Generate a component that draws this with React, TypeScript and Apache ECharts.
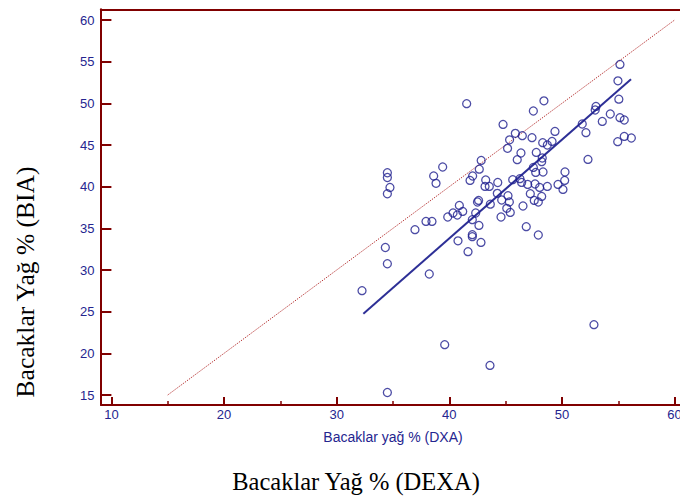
import React, { useEffect, useRef } from "react";
import * as echarts from "echarts";

// Leg fat %: DEXA (x) vs BIA (y)
const dexaValues: number[] = [
  41.54, 44.77, 45.35, 45.17, 42.83, 42.66, 39.41, 38.61, 38.82, 34.5,
  34.5, 34.73, 34.5, 42.07, 41.84, 43.23, 44.3, 43.17, 43.55, 44.26,
  42.6, 42.5, 43.64, 44.65, 40.89, 40.33, 40.71, 41.19, 39.86, 42.34,
  42.04, 42.63, 44.59, 37.93, 38.46, 36.95, 42.04, 42.04, 40.77, 46.83,
  47.9, 42.81, 41.66, 34.32, 34.5, 38.22, 32.25, 39.59, 43.61, 34.5,
  55.15, 54.97, 55.05, 48.4, 47.46, 53.02, 52.95, 54.29, 53.58, 55.15,
  55.53, 51.8, 52.13, 49.38, 45.86, 46.48, 47.34, 48.29, 48.7, 49.12,
  55.53, 56.16, 54.95, 46.36, 46.03, 47.72, 48.25, 48.2, 52.31, 47.46,
  47.67, 48.32, 50.27, 50.24, 45.63, 46.27, 46.42, 46.96, 47.61, 48.02,
  48.7, 49.65, 50.09, 45.21, 47.19, 48.2, 47.54, 47.9, 45.33, 46.54,
  45.1, 45.41, 52.84,
];
const biaValues: number[] = [
  49.96, 47.47, 45.62, 44.6, 43.15, 42.1, 42.36, 41.28, 40.4, 41.67,
  41.1, 39.9, 39.15, 41.28, 40.75, 40.8, 40.5, 40.03, 40.03, 39.2,
  38.35, 38.16, 37.9, 38.4, 37.75, 36.84, 36.6, 37.03, 36.36, 36.84,
  36.04, 35.35, 36.36, 35.83, 35.83, 34.84, 34.24, 34.0, 33.5, 35.2,
  34.2, 33.31, 32.2, 32.7, 30.75, 29.52, 27.52, 21.04, 18.55, 15.3,
  54.67, 52.7, 50.5, 50.3, 49.08, 49.63, 49.2, 48.72, 47.83, 48.28,
  48.0, 47.52, 46.48, 46.63, 46.4, 46.12, 45.88, 45.28, 45.0, 45.43,
  46.03, 45.84, 45.4, 44.04, 43.24, 44.11, 43.44, 43.0, 43.27, 42.31,
  41.71, 41.76, 41.76, 40.75, 40.84, 40.96, 40.51, 40.27, 40.32, 39.91,
  40.03, 40.27, 39.67, 38.92, 39.16, 38.83, 38.35, 38.16, 38.16, 37.68,
  37.4, 36.91, 23.44,
];
// Identity line (y = x) and fitted regression line end points
const identityX: number[] = [15, 60];
const identityY: number[] = [15, 60];
const regressionX: number[] = [32.37, 56.13];
const regressionY: number[] = [24.76, 52.9];

const xTickMin = 10;
const xTickMax = 60;
const xTickStep = 10;
const yTickMin = 15;
const yTickMax = 60;
const yTickStep = 5;

const xAxisName = "Bacaklar yağ % (DXA)";
const xTitle = "Bacaklar Yağ % (DEXA)";
const yTitle = "Bacaklar Yağ % (BIA)";

const AXIS_RED = "#800000";
const NAVY = "#1f1f8f";
const LABEL_BLUE = "#25258f";

export default function App() {
  const ref = useRef<HTMLDivElement>(null);

  useEffect(() => {
    if (!ref.current) return;
    const chart = echarts.init(ref.current, undefined, { renderer: "svg" });

    // pixel geometry
    const pxPerX = 11.264;
    const pxPerY = 8.333;
    const g1Left = 111.4, g1Right = 5.4, g1Top = 20, g1Bottom = 103;
    const g0Left = 101, g0Right = 0, g0Top = 9.3, g0Bottom = 93;
    const xMin0 = xTickMin - (g1Left - g0Left) / pxPerX;
    const xMax0 = xTickMax + (g1Right - g0Right) / pxPerX;
    const yMax0 = yTickMax + (g1Top - g0Top) / pxPerY;
    const yMin0 = yTickMin - (g1Bottom - g0Bottom) / pxPerY;

    const scatterData = dexaValues.map((x, i) => [x, biaValues[i]]);
    const identityData = identityX.map((x, i) => [x, identityY[i]]);
    const regressionData = regressionX.map((x, i) => [x, regressionY[i]]);

    const lineOnly = {
      show: true,
      onZero: false,
      lineStyle: { color: AXIS_RED, width: 2 },
    };

    chart.setOption({
      animation: false,
      backgroundColor: "#ffffff",
      grid: [
        { left: g0Left, right: g0Right, top: g0Top, bottom: g0Bottom, outerBoundsMode: "none" },
        { left: g1Left, right: g1Right, top: g1Top, bottom: g1Bottom, outerBoundsMode: "none" },
      ],
      xAxis: [
        {
          gridIndex: 0, type: "value", min: xMin0, max: xMax0,
          axisLine: lineOnly, axisTick: { show: false }, axisLabel: { show: false },
          splitLine: { show: false },
        },
        {
          gridIndex: 0, type: "value", position: "top", min: xMin0, max: xMax0,
          axisLine: lineOnly, axisTick: { show: false }, axisLabel: { show: false },
          splitLine: { show: false },
        },
        {
          gridIndex: 1, type: "value", min: xTickMin, max: xTickMax, interval: xTickStep,
          offset: 10,
          axisLine: { show: false },
          axisTick: { show: true, inside: true, length: 8, lineStyle: { color: AXIS_RED, width: 2 } },
          minorTick: { show: true, splitNumber: 2, length: 4, lineStyle: { color: AXIS_RED, width: 1.5 } },
          axisLabel: {
            color: LABEL_BLUE, fontSize: 13, margin: 3,
            fontFamily: "Liberation Sans, Arial, sans-serif",
          },
          splitLine: { show: false },
          name: xAxisName,
          nameLocation: "middle",
          nameGap: 25,
          nameTextStyle: {
            color: LABEL_BLUE, fontSize: 14,
            fontFamily: "Liberation Sans, Arial, sans-serif",
          },
        },
      ],
      yAxis: [
        {
          gridIndex: 0, type: "value", min: yMin0, max: yMax0,
          axisLine: lineOnly, axisTick: { show: false }, axisLabel: { show: false },
          splitLine: { show: false },
        },
        {
          gridIndex: 1, type: "value", min: yTickMin, max: yTickMax, interval: yTickStep,
          offset: 10,
          axisLine: { show: false },
          axisTick: { show: true, inside: true, length: 10, lineStyle: { color: AXIS_RED, width: 2 } },
          axisLabel: {
            color: LABEL_BLUE, fontSize: 13, margin: 7,
            fontFamily: "Liberation Sans, Arial, sans-serif",
          },
          splitLine: { show: false },
        },
      ],
      series: [
        {
          type: "line",
          xAxisIndex: 0, yAxisIndex: 0,
          data: identityData,
          showSymbol: false,
          symbol: "none",
          lineStyle: { color: "#b22a2a", width: 1, type: [1.2, 1.2] },
          silent: true,
          z: 2,
        },
        {
          type: "line",
          xAxisIndex: 0, yAxisIndex: 0,
          data: regressionData,
          showSymbol: false,
          symbol: "none",
          lineStyle: { color: "#2d2f96", width: 2 },
          silent: true,
          z: 3,
        },
        {
          type: "scatter",
          xAxisIndex: 0, yAxisIndex: 0,
          data: scatterData,
          symbol: "circle",
          symbolSize: 8,
          itemStyle: { color: "rgba(0,0,0,0)", borderColor: NAVY, borderWidth: 1.3 },
          z: 4,
        },
      ],
      graphic: [
        {
          type: "text",
          x: 356, y: 481,
          style: {
            text: xTitle,
            fill: "#000000",
            font: "24.5px 'Liberation Serif', 'Times New Roman', serif",
            align: "center",
            verticalAlign: "middle",
          },
        },
        {
          type: "text",
          x: 25, y: 282,
          rotation: Math.PI / 2,
          style: {
            text: yTitle,
            fill: "#000000",
            font: "25.5px 'Liberation Serif', 'Times New Roman', serif",
            align: "center",
            verticalAlign: "middle",
          },
        },
      ],
    });

    return () => chart.dispose();
  }, []);

  return (
    <div
      ref={ref}
      style={{ position: "fixed", left: 0, top: 0, width: 680, height: 498 }}
    />
  );
}
